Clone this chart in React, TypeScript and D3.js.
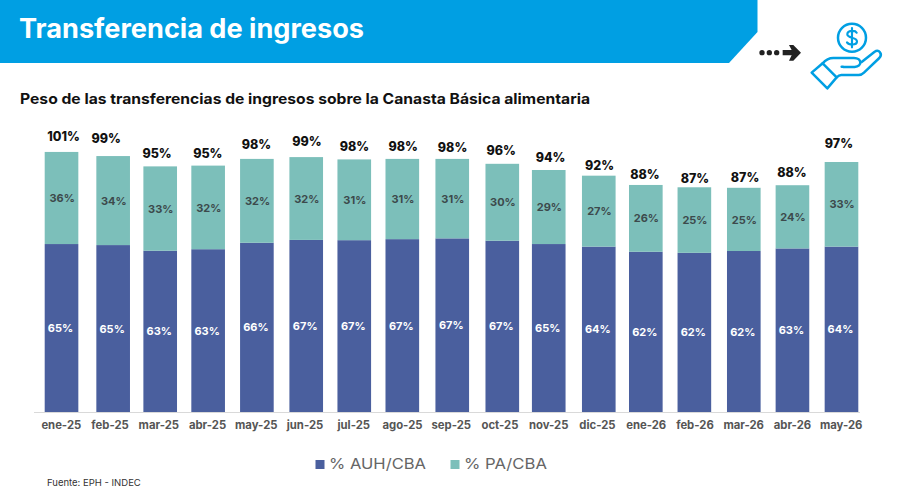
import React from "react";
import * as d3 from "d3";

const months = ["ene-25","feb-25","mar-25","abr-25","may-25","jun-25","jul-25","ago-25","sep-25","oct-25","nov-25","dic-25","ene-26","feb-26","mar-26","abr-26","may-26"];
const auh = [65.1,64.7,62.5,63.1,65.6,66.7,66.6,67,67.3,66.4,65.1,64.1,62.1,61.7,62.4,63.4,64.1];
const pa = [35.7,34.5,32.7,32.4,32.5,32.1,31.3,31.1,30.8,29.8,28.7,27.5,25.9,25.4,24.5,24.5,32.8];
const auhLabels = [65,65,63,63,66,67,67,67,67,67,65,64,62,62,62,63,64];
const paLabels = [36,34,33,32,32,32,31,31,31,30,29,27,26,25,25,24,33];
const totalLabels = [101,99,95,95,98,99,98,98,98,96,94,92,88,87,87,88,97];
const legendItems = ["% AUH/CBA", "% PA/CBA"];
const title = "Transferencia de ingresos";
const subtitle = "Peso de las transferencias de ingresos sobre la Canasta Básica alimentaria";
const source = "Fuente: EPH - INDEC";

const BLUE = "#009fe3";
const NAVY = "#4a5f9e";
const TEAL = "#7cbfba";
const FONT = "Inter, 'Noto Sans', sans-serif";

// hand-placed offsets of the original slide, relative to the regular band
const barNudge = [0.2,3.1,1.4,0.6,0.6,1.2,0.5,-0.2,1,2.3,0,1.3,-0.4,-0.6,0.1,0,0.3];
const totalNudge = [2.3,-3.9,-1.7,0.3,0.2,2,0.7,0.7,1.3,1.2,1.8,2,-1.3,0,1.3,-0.5,-2.2];
const totalGap = [15,17.7,12.7,12.2,14.3,15.7,13,12.3,11,13.7,12.3,10,10.3,8.6,10,12.8,18.3];

export default function App() {
  const x = d3.scaleBand<string>().domain(months).range([44.5, 858]).paddingInner(0.31).paddingOuter(0);
  const y = d3.scaleLinear().domain([0, 100]).range([412, 154]);
  const bw = x.bandwidth();
  return (
    <svg width={897} height={495} viewBox="0 0 897 495"
      style={{ position: "absolute", left: 0, top: 0, background: "#fff" }} fontFamily={FONT}>
      <polygon points="0,0 757.5,0 757.5,32 729,63 0,63" fill={BLUE} />
      <text x={19} y={38} fill="#fff" fontSize={26.5} fontWeight={700} textLength={345} lengthAdjust="spacingAndGlyphs">{title}</text>
      <text x={20} y={104} fill="#111" fontSize={14.5} fontWeight={700} textLength={570} lengthAdjust="spacingAndGlyphs">{subtitle}</text>

      <g transform="translate(740,0) scale(0.3333)">
        <g fill="#222">
          <circle cx={66} cy={158} r={8} />
          <circle cx={88} cy={158} r={8} />
          <circle cx={110} cy={158} r={8} />
          <path d="M128 150h27l-8-15h13l23 23-23 24h-13l8-16h-27z" />
        </g>
        <g fill="none" stroke={BLUE} strokeWidth={7.500} strokeLinejoin="round" strokeLinecap="round">
          <circle cx={336} cy={113} r={42} />
          <path d="M350 98c-4-8-28-8-28 5 0 13 30 8 29 22-1 12-25 10-30 2M336 84v58" strokeWidth={6.500} />
          <path d="M215 218l33-28 42 42-28 33z" />
          <path d="M248 190c6-7 17-16 32-16h62c24 0 26 26 2 27h-34" />
          <path d="M365 186l38-30c14-10 26 6 15 18l-46 44c-5 5-10 7-16 7h-52c-5 0-9 2-14 7" />
          <path d="M305 200h3" />
        </g>
      </g>

      {months.map((m, i) => {
        const bx = x(m)! + barNudge[i];
        const cx = bx + bw / 2;
        const top = y(auh[i] + pa[i]);
        return (
          <g key={m}>
            <rect x={bx} y={y(auh[i])} width={bw} height={y(0) - y(auh[i])} fill={NAVY} />
            <rect x={bx} y={top} width={bw} height={y(0) - y(pa[i])} fill={TEAL} />
            <text x={cx - 1} y={y(auh[i] / 2) + 4} textAnchor="middle" fill="#fff" fontSize={11} fontWeight={700}>{auhLabels[i]}%</text>
            <text x={cx + 0.6} y={y(auh[i] + pa[i] / 2) + 4.100} textAnchor="middle" fill="#3c4a4c" fontSize={11} fontWeight={700}>{paLabels[i]}%</text>
            <text x={x(m)! + bw / 2 + totalNudge[i]} y={top - totalGap[i] + 4.500} textAnchor="middle" fill="#111" fontSize={12.5} fontWeight={800}>{totalLabels[i]}%</text>
            <text x={x(m)! + bw / 2} y={429} textAnchor="middle" fill="#555" fontSize={11.3} fontWeight={700}>{m}</text>
          </g>
        );
      })}
      <line x1={34} x2={860} y1={412.500} y2={412.500} stroke="#d9d9d9" strokeWidth={1} />

      <rect x={315.500} y={460} width={9} height={9} fill={NAVY} />
      <text x={329} y={469} fill="#666" fontSize={15} textLength={97} lengthAdjust="spacingAndGlyphs">{legendItems[0]}</text>
      <rect x={450.500} y={460} width={9} height={9} fill={TEAL} />
      <text x={464} y={469} fill="#666" fontSize={15} textLength={83} lengthAdjust="spacingAndGlyphs">{legendItems[1]}</text>
      <text x={47} y={486} fill="#333" fontSize={9.500}>{source}</text>
    </svg>
  );
}
